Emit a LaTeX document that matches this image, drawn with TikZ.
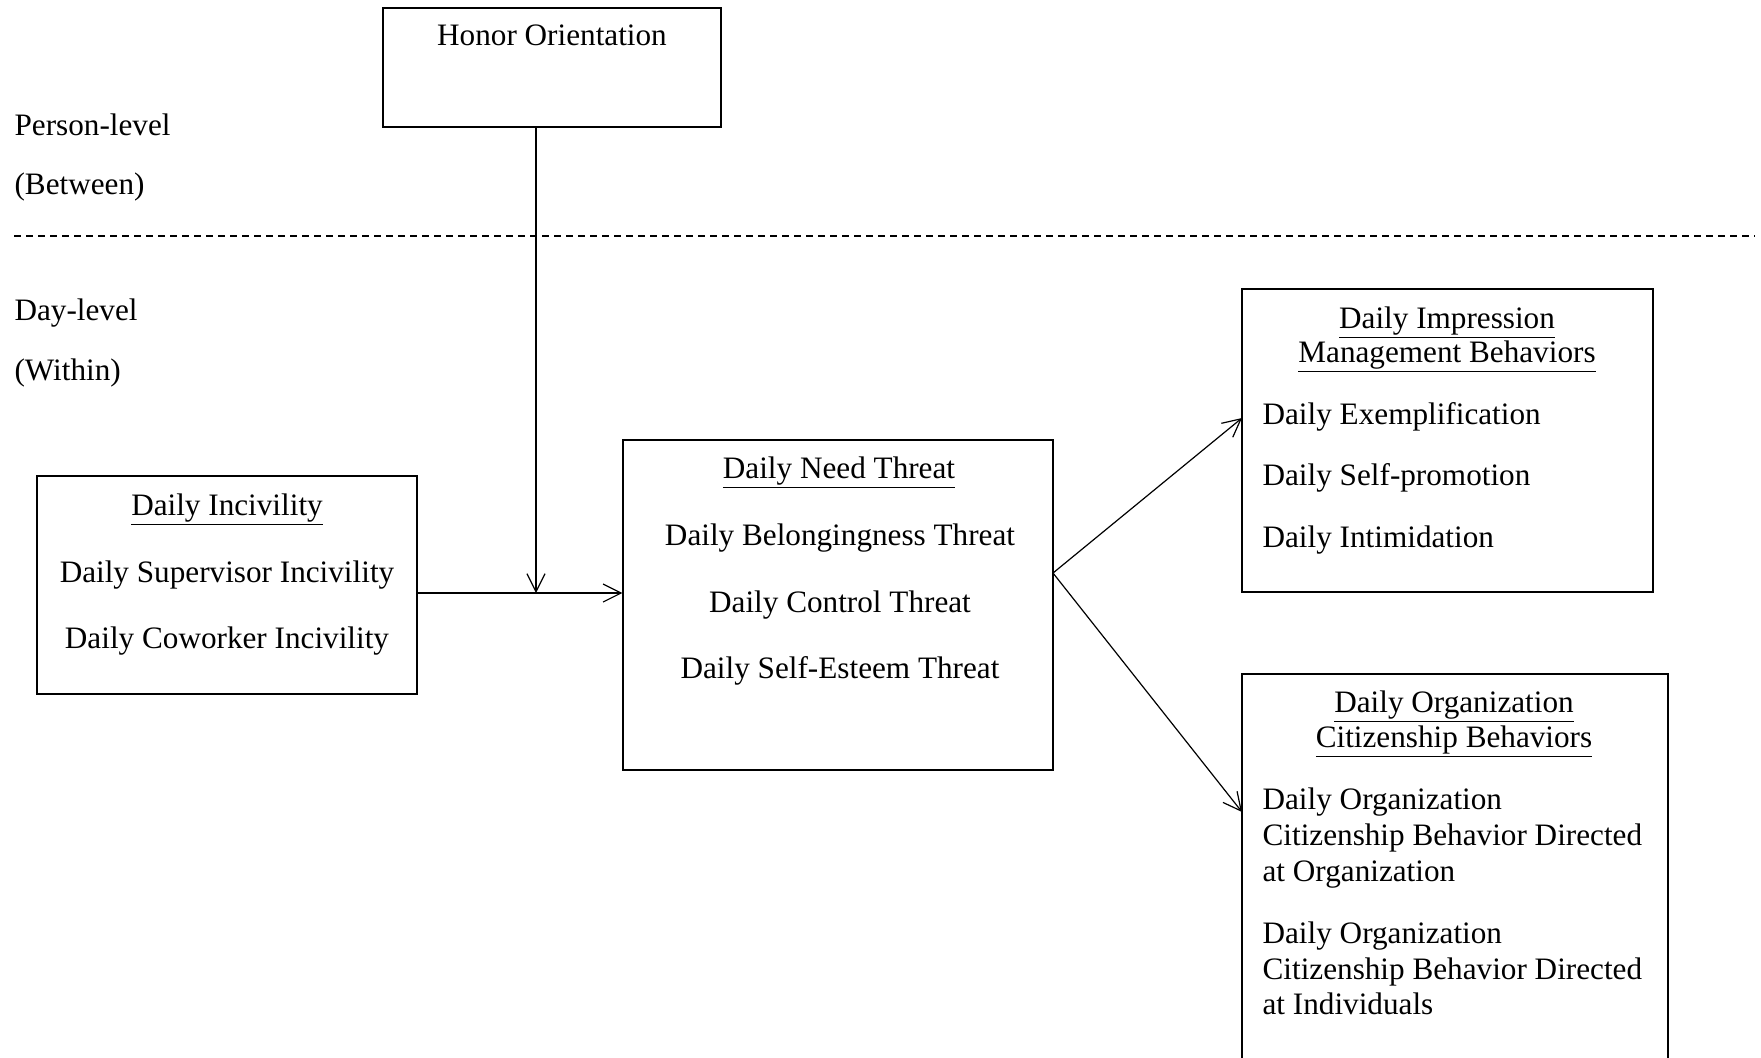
\documentclass[tikz,border=0pt]{standalone}
\usepackage{fontspec}
\setmainfont{Liberation Serif}
\usetikzlibrary{arrows.meta}

\begin{document}
\begin{tikzpicture}[x=0.5pt, y=-0.5pt, line width=0.6pt,
  every node/.style={font=\fontsize{15.6}{18}\selectfont},
  box/.style={draw, inner sep=0pt},
  txt/.style={inner sep=0pt, anchor=base},
  item/.style={inner sep=0pt, anchor=base west},
  link/.style={-{Straight Barb[length=9pt,width=9pt]}}]
\useasboundingbox (0,0) rectangle (1761,1057);
\clip (0,0) rectangle (1761,1057);

% levels
\node[item] (personlvl) at (14,135){Person-level};
\node[item] (between) at (14,194){(Between)};
\node[item] (daylvl) at (14,320){Day-level};
\node[item] (within) at (14,380){(Within)};
\draw[dash pattern=on 3.4pt off 2.6pt] (14,236) -- (1755,236);

% boxes
\node[box, minimum width=169pt, minimum height=59.5pt] (honor) at (552,67.5){};
\node[box, minimum width=190pt, minimum height=109pt] (incivility) at (227,585){};
\node[box, minimum width=215pt, minimum height=165pt] (need) at (838,605){};
\node[box, minimum width=205.5pt, minimum height=151.5pt] (impression) at (1447.5,440.5){};
\node[box, minimum width=213pt, minimum height=213pt] (ocb) at (1455,887){};

\node[txt] (honorlbl) at (552,45){Honor Orientation};

\node[txt] (incivilityhd) at (227,515){\underline{Daily Incivility}};
\node[txt] (supervisor) at (227,582){Daily Supervisor Incivility};
\node[txt] (coworker) at (227,648){Daily Coworker Incivility};

\node[txt] (needhd) at (839,478){\underline{Daily Need Threat}};
\node[txt] (belong) at (840,545){Daily Belongingness Threat};
\node[txt] (control) at (840,612){Daily Control Threat};
\node[txt] (esteem) at (840,678){Daily Self-Esteem Threat};

\node[txt] (imhda) at (1447,328){\underline{Daily Impression}};
\node[txt] (imhdb) at (1447,362){\underline{Management Behaviors}};
\node[item] (exempl) at (1262,424){Daily Exemplification};
\node[item] (selfpromo) at (1262,485){Daily Self-promotion};
\node[item] (intimid) at (1262,547){Daily Intimidation};

\node[txt] (ocbhda) at (1454,712){\underline{Daily Organization}};
\node[txt] (ocbhdb) at (1454,747){\underline{Citizenship Behaviors}};
\node[item] (ocboa) at (1262,809){Daily Organization};
\node[item] (ocbob) at (1262,845){Citizenship Behavior Directed};
\node[item] (ocboc) at (1262,881){at Organization};
\node[item] (ocbia) at (1262,943){Daily Organization};
\node[item] (ocbib) at (1262,979){Citizenship Behavior Directed};
\node[item] (ocbic) at (1262,1014){at Individuals};

% paths
\coordinate (join) at (536,593);
\coordinate (fork) at (1053,573);
\coordinate (imtip) at (1242,418);
\coordinate (ocbtip) at (1242,812);
\draw[link] (honor.south -| join) -- (join);
\draw[link] (incivility.east |- join) -- (need.west |- join);
\draw[link] (fork) -- (imtip);
\draw[link] (fork) -- (ocbtip);

\end{tikzpicture}
\end{document}
